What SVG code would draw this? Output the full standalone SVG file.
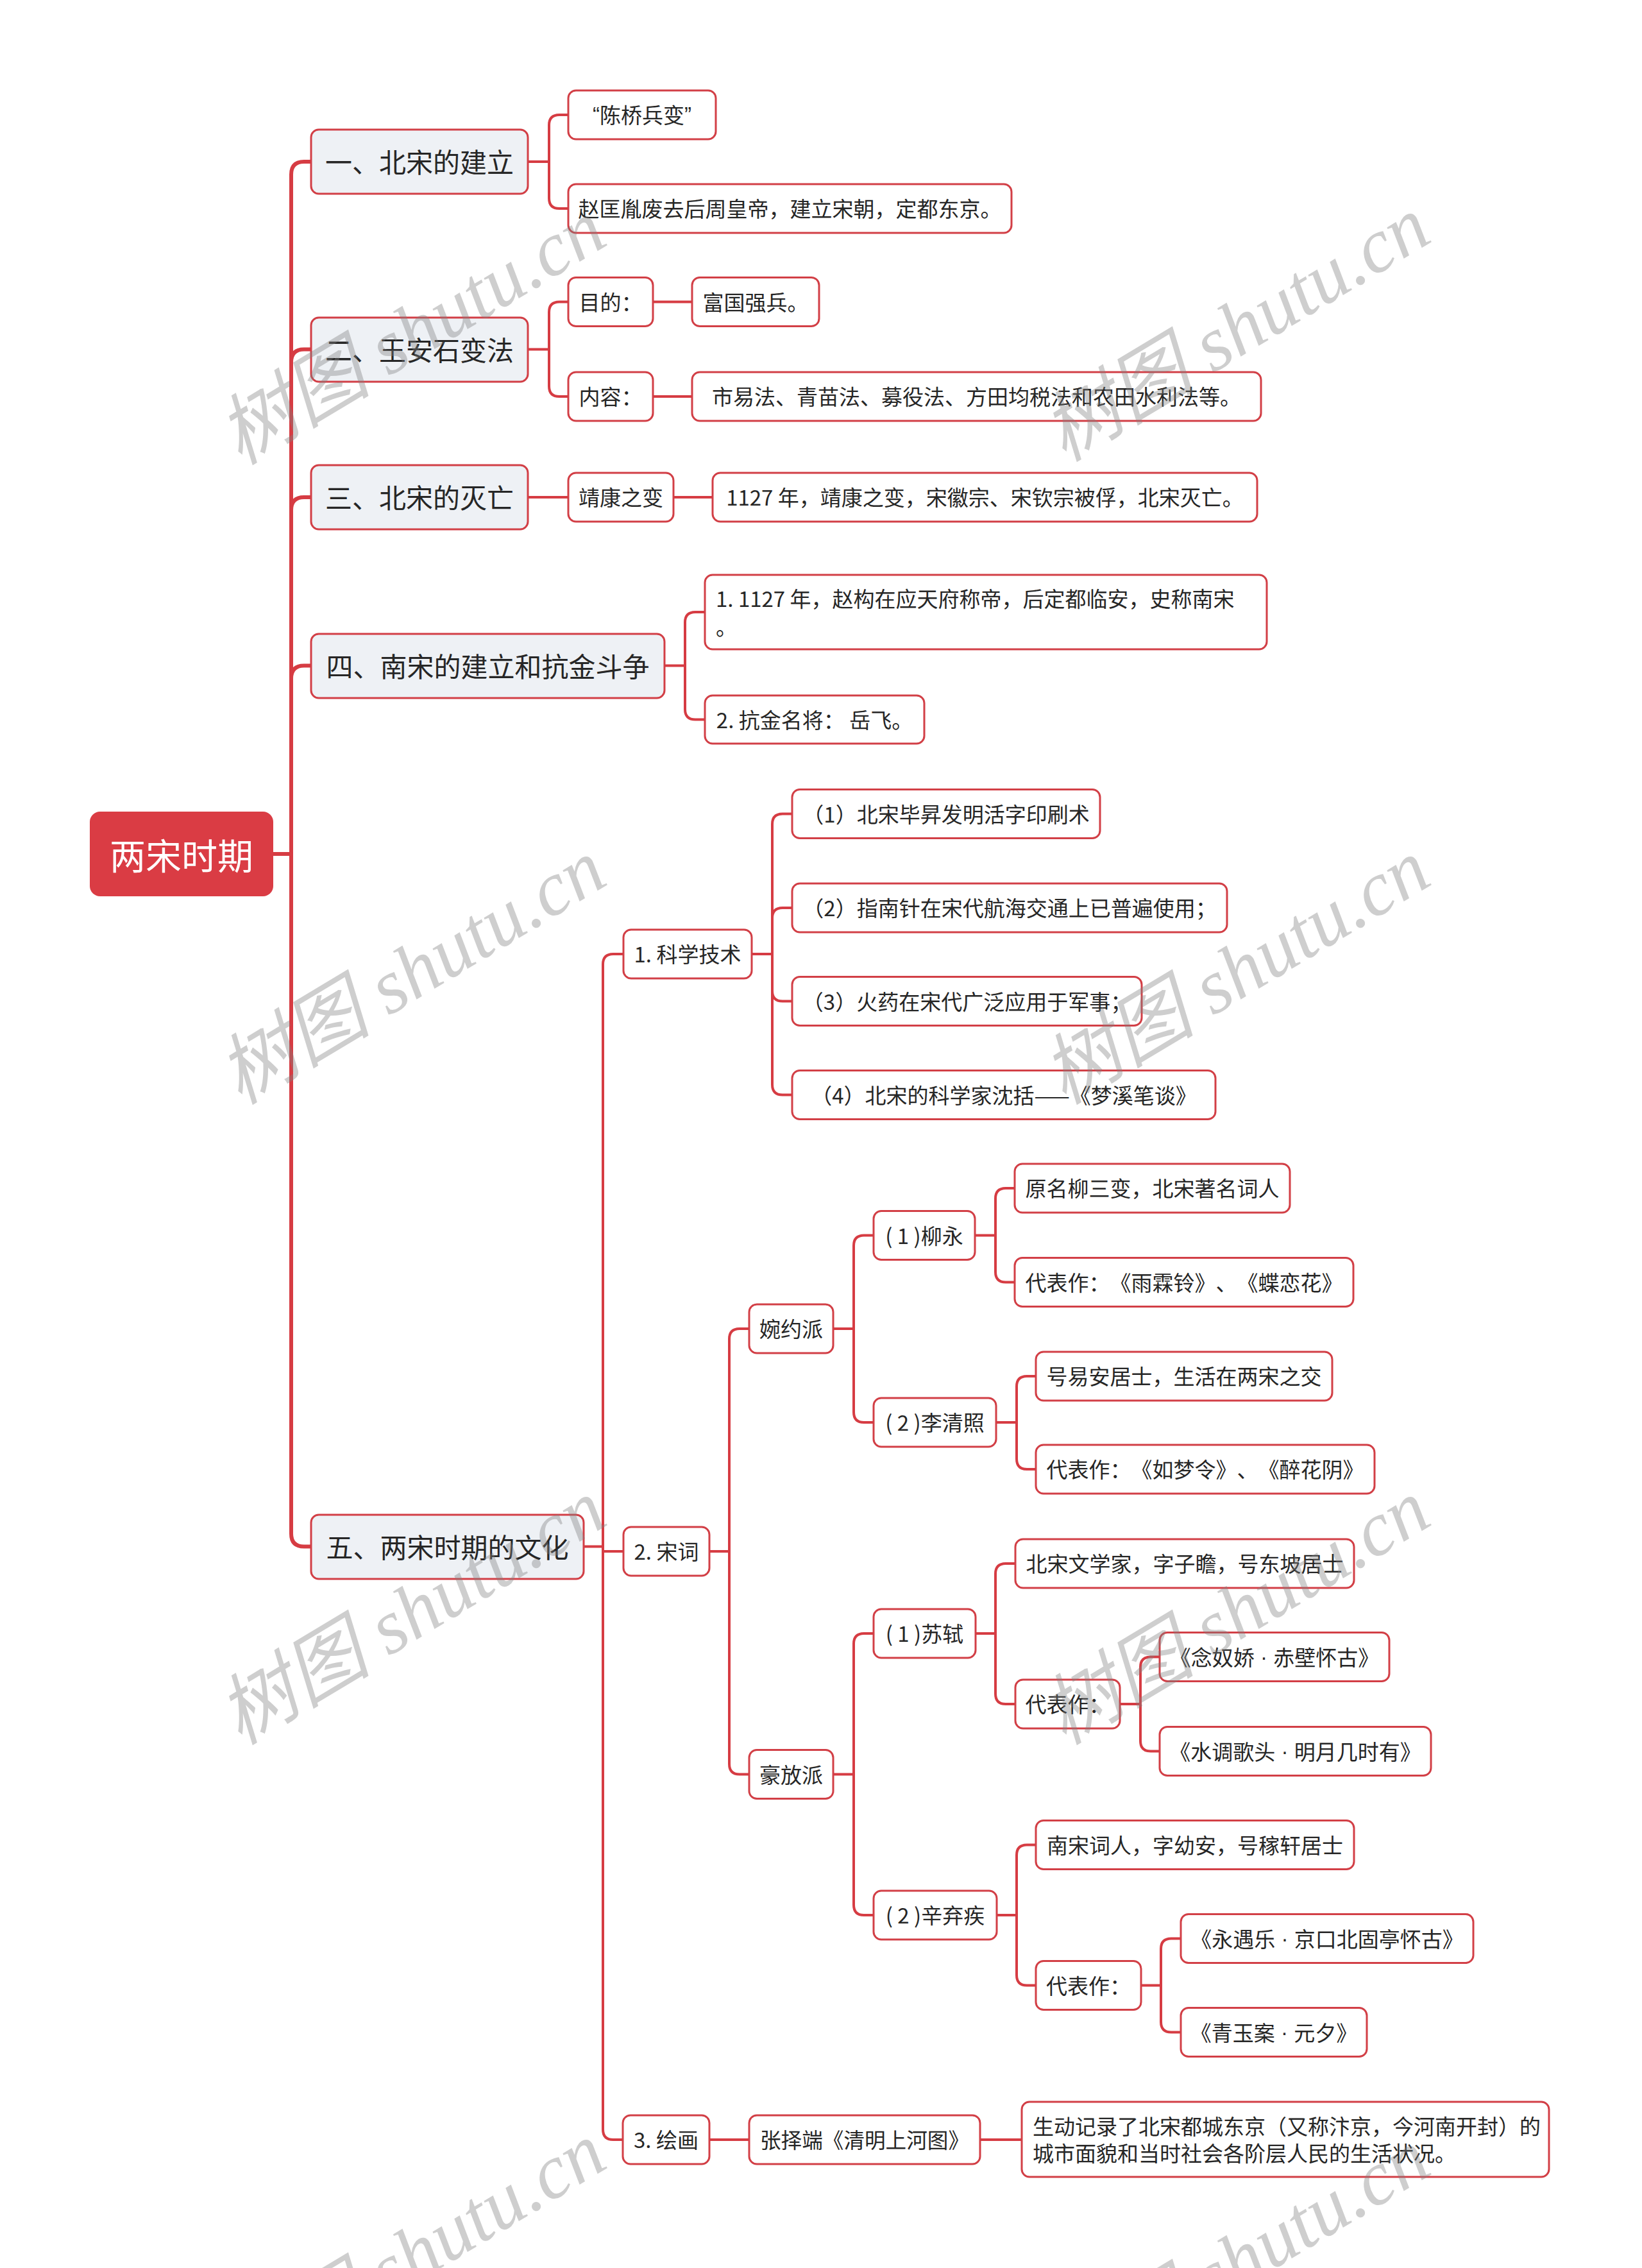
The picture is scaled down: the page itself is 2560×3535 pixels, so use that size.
<svg xmlns="http://www.w3.org/2000/svg" width="2560" height="3535" viewBox="0 0 2560 3535">
<style>
.bg{fill:#ffffff}
.conn path{fill:none;stroke:#D63C43;stroke-width:4;stroke-linecap:round;stroke-linejoin:round}
.conn path.trunk{stroke-width:6}
.node rect{fill:#ffffff;stroke:#D23F46;stroke-width:3}
.main rect{fill:#EEF1F5}
.root rect{fill:#DA3C44;stroke:none}
text{font-family:'Noto Sans CJK SC','Noto Sans',sans-serif;fill:#262626;text-spacing-trim:space-all}
.c{text-anchor:middle;dominant-baseline:central}
.l{text-anchor:start;dominant-baseline:central}
.f56{font-size:56px;fill:#ffffff}
.f42{font-size:42px}
.f32{font-size:33px}
.lat{font-family:'Liberation Sans',sans-serif}
.wm text{font-family:'Liberation Serif','Noto Sans CJK SC',serif;font-style:italic;font-size:120px;fill:#808080;opacity:0.38;text-anchor:middle;dominant-baseline:central}
</style>
<rect class="bg" x="0" y="0" width="2560" height="3535"/>
<g id="connectors" class="conn">
<path class="trunk" d="M426,1331 H454 V272 Q454,252 474,252 H485"/>
<path class="trunk" d="M454,1331 V564.5 Q454,544.5 474,544.5 H485"/>
<path class="trunk" d="M454,1331 V795 Q454,775 474,775 H485"/>
<path class="trunk" d="M454,1331 V1057.5 Q454,1037.5 474,1037.5 H485"/>
<path class="trunk" d="M454,1331 V2390.5 Q454,2410.5 474,2410.5 H485"/>
<path d="M823,252 H856 V195 Q856,179 872,179 H886"/>
<path d="M856,252 V309 Q856,325 872,325 H886"/>
<path d="M823,544.5 H856 V486.5 Q856,470.5 872,470.5 H886"/>
<path d="M856,544.5 V602 Q856,618 872,618 H886"/>
<path d="M1018,470.5 H1079"/>
<path d="M1018,618 H1079"/>
<path d="M823,775 H886"/>
<path d="M1050,775 H1111"/>
<path d="M1036,1037.5 H1068 V970 Q1068,954 1084,954 H1099"/>
<path d="M1068,1037.5 V1105.5 Q1068,1121.5 1084,1121.5 H1099"/>
<path d="M910,2410.5 H940 V1503 Q940,1487 956,1487 H972"/>
<path d="M940,2410.5 V2418 H972"/>
<path d="M940,2410.5 V3319 Q940,3335 956,3335 H971"/>
<path d="M1172,1487 H1204 V1284.5 Q1204,1268.5 1220,1268.5 H1235"/>
<path d="M1204,1487 V1431 Q1204,1415 1220,1415 H1235"/>
<path d="M1204,1487 V1544.5 Q1204,1560.5 1220,1560.5 H1235"/>
<path d="M1204,1487 V1690.5 Q1204,1706.5 1220,1706.5 H1235"/>
<path d="M1106,2418 H1137 V2087 Q1137,2071 1153,2071 H1168"/>
<path d="M1137,2418 V2749.5 Q1137,2765.5 1153,2765.5 H1168"/>
<path d="M1299,2071 H1331 V1941.5 Q1331,1925.5 1347,1925.5 H1362"/>
<path d="M1331,2071 V2201 Q1331,2217 1347,2217 H1362"/>
<path d="M1520,1925.5 H1552 V1868 Q1552,1852 1568,1852 H1582"/>
<path d="M1552,1925.5 V1982.5 Q1552,1998.5 1568,1998.5 H1582"/>
<path d="M1553,2217 H1585 V2161 Q1585,2145 1601,2145 H1615"/>
<path d="M1585,2217 V2274 Q1585,2290 1601,2290 H1615"/>
<path d="M1299,2765.5 H1331 V2562 Q1331,2546 1347,2546 H1362"/>
<path d="M1331,2765.5 V2969 Q1331,2985 1347,2985 H1362"/>
<path d="M1521,2546 H1552 V2453 Q1552,2437 1568,2437 H1583"/>
<path d="M1552,2546 V2640 Q1552,2656 1568,2656 H1583"/>
<path d="M1746,2656 H1778 V2598.5 Q1778,2582.5 1794,2582.5 H1808"/>
<path d="M1778,2656 V2713.5 Q1778,2729.5 1794,2729.5 H1808"/>
<path d="M1554,2985 H1585 V2891.5 Q1585,2875.5 1601,2875.5 H1615"/>
<path d="M1585,2985 V3078.5 Q1585,3094.5 1601,3094.5 H1615"/>
<path d="M1779,3094.5 H1810 V3037.5 Q1810,3021.5 1826,3021.5 H1841"/>
<path d="M1810,3094.5 V3151.5 Q1810,3167.5 1826,3167.5 H1841"/>
<path d="M1106,3335 H1168"/>
<path d="M1528,3335 H1593"/>
</g>
<g id="root" class="node root"><rect x="140" y="1265" width="286" height="132" rx="16"/><text class="c f56" x="283" y="1330">两宋时期</text></g>
<g id="m1" class="node main"><rect x="485" y="202" width="338" height="100" rx="12"/><text class="c f42" x="654" y="250">一、北宋的建立</text></g>
<g id="m2" class="node main"><rect x="485" y="495" width="338" height="100" rx="12"/><text class="c f42" x="654" y="543">二、王安石变法</text></g>
<g id="m3" class="node main"><rect x="485" y="725" width="338" height="100" rx="12"/><text class="c f42" x="654" y="773">三、北宋的灭亡</text></g>
<g id="m4" class="node main"><rect x="485" y="988" width="551" height="100" rx="12"/><text class="c f42" x="760.5" y="1036">四、南宋的建立和抗金斗争</text></g>
<g id="m5" class="node main"><rect x="485" y="2361" width="425" height="100" rx="12"/><text class="c f42" x="697.5" y="2409">五、两宋时期的文化</text></g>
<g id="n1a" class="node"><rect x="886" y="141" width="230" height="76" rx="12"/><text class="c f32" x="1001" y="178"><tspan class="lat">“</tspan>陈桥兵变<tspan class="lat">”</tspan></text></g>
<g id="n1b" class="node"><rect x="886" y="287" width="691" height="76" rx="12"/><text class="c f32" x="1231.5" y="324">赵匡胤废去后周皇帝，建立宋朝，定都东京。</text></g>
<g id="n2a" class="node"><rect x="886" y="432.5" width="132" height="76" rx="12"/><text class="c f32" x="952" y="469.5">目的：</text></g>
<g id="n2a1" class="node"><rect x="1079" y="432.5" width="198" height="76" rx="12"/><text class="c f32" x="1178" y="469.5">富国强兵。</text></g>
<g id="n2b" class="node"><rect x="886" y="580" width="132" height="76" rx="12"/><text class="c f32" x="952" y="617">内容：</text></g>
<g id="n2b1" class="node"><rect x="1079" y="580" width="887" height="76" rx="12"/><text class="c f32" x="1522.5" y="617">市易法、青苗法、募役法、方田均税法和农田水利法等。</text></g>
<g id="n3a" class="node"><rect x="886" y="737" width="164" height="76" rx="12"/><text class="c f32" x="968" y="774">靖康之变</text></g>
<g id="n3a1" class="node"><rect x="1111" y="737" width="849" height="76" rx="12"/><text class="c f32" x="1535.5" y="774">1127 年，靖康之变，宋徽宗、宋钦宗被俘，北宋灭亡。</text></g>
<g id="n4a" class="node"><rect x="1099" y="896" width="876" height="116" rx="12"/><text class="l f32" x="1116" y="932">1. 1127 年，赵构在应天府称帝，后定都临安，史称南宋</text><text class="l f32" x="1116" y="976">。</text></g>
<g id="n4b" class="node"><rect x="1099" y="1084" width="342" height="75" rx="12"/><text class="c f32" x="1270" y="1120.5">2. 抗金名将： 岳飞。</text></g>
<g id="s1" class="node"><rect x="972" y="1449" width="200" height="76" rx="12"/><text class="c f32" x="1072" y="1486">1. 科学技术</text></g>
<g id="s1a" class="node"><rect x="1235" y="1230.5" width="480" height="76" rx="12"/><text class="c f32" x="1475" y="1267.5">（1）北宋毕昇发明活字印刷术</text></g>
<g id="s1b" class="node"><rect x="1235" y="1377" width="678" height="76" rx="12"/><text class="c f32" x="1574" y="1414">（2）指南针在宋代航海交通上已普遍使用；</text></g>
<g id="s1c" class="node"><rect x="1235" y="1522.5" width="545" height="76" rx="12"/><text class="c f32" x="1507.5" y="1559.5">（3）火药在宋代广泛应用于军事；</text></g>
<g id="s1d" class="node"><rect x="1235" y="1668.5" width="660" height="76" rx="12"/><text class="c f32" x="1565" y="1705.5">（4）北宋的科学家沈括——《梦溪笔谈》</text></g>
<g id="s2" class="node"><rect x="972" y="2380" width="134" height="76" rx="12"/><text class="c f32" x="1039" y="2417">2. 宋词</text></g>
<g id="w" class="node"><rect x="1168" y="2033" width="131" height="76" rx="12"/><text class="c f32" x="1233.5" y="2070">婉约派</text></g>
<g id="w1" class="node"><rect x="1362" y="1887.5" width="158" height="76" rx="12"/><text class="c f32" x="1441" y="1924.5">( 1 )柳永</text></g>
<g id="w1a" class="node"><rect x="1582" y="1814" width="429" height="76" rx="12"/><text class="c f32" x="1796.5" y="1851">原名柳三变，北宋著名词人</text></g>
<g id="w1b" class="node"><rect x="1582" y="1960.5" width="528" height="76" rx="12"/><text class="c f32" x="1846" y="1997.5">代表作：《雨霖铃》、《蝶恋花》</text></g>
<g id="w2" class="node"><rect x="1362" y="2179" width="191" height="76" rx="12"/><text class="c f32" x="1457.5" y="2216">( 2 )李清照</text></g>
<g id="w2a" class="node"><rect x="1615" y="2107" width="462" height="76" rx="12"/><text class="c f32" x="1846" y="2144">号易安居士，生活在两宋之交</text></g>
<g id="w2b" class="node"><rect x="1615" y="2252" width="528" height="76" rx="12"/><text class="c f32" x="1879" y="2289">代表作：《如梦令》、《醉花阴》</text></g>
<g id="h" class="node"><rect x="1168" y="2727.5" width="131" height="76" rx="12"/><text class="c f32" x="1233.5" y="2764.5">豪放派</text></g>
<g id="h1" class="node"><rect x="1362" y="2508" width="159" height="76" rx="12"/><text class="c f32" x="1441.5" y="2545">( 1 )苏轼</text></g>
<g id="h1a" class="node"><rect x="1583" y="2399" width="528" height="76" rx="12"/><text class="c f32" x="1847" y="2436">北宋文学家，字子瞻，号东坡居士</text></g>
<g id="h1b" class="node"><rect x="1583" y="2618" width="163" height="76" rx="12"/><text class="c f32" x="1664.5" y="2655">代表作：</text></g>
<g id="h1b1" class="node"><rect x="1808" y="2544.5" width="358" height="76" rx="12"/><text class="c f32" x="1987" y="2581.5">《念奴娇<tspan class="lat"> · </tspan>赤壁怀古》</text></g>
<g id="h1b2" class="node"><rect x="1808" y="2691.5" width="423" height="76" rx="12"/><text class="c f32" x="2019.5" y="2728.5">《水调歌头<tspan class="lat"> · </tspan>明月几时有》</text></g>
<g id="h2" class="node"><rect x="1362" y="2947" width="192" height="76" rx="12"/><text class="c f32" x="1458" y="2984">( 2 )辛弃疾</text></g>
<g id="h2a" class="node"><rect x="1615" y="2837.5" width="496" height="76" rx="12"/><text class="c f32" x="1863" y="2874.5">南宋词人，字幼安，号稼轩居士</text></g>
<g id="h2b" class="node"><rect x="1615" y="3056.5" width="164" height="76" rx="12"/><text class="c f32" x="1697" y="3093.5">代表作：</text></g>
<g id="h2b1" class="node"><rect x="1841" y="2983.5" width="456" height="76" rx="12"/><text class="c f32" x="2069" y="3020.5">《永遇乐<tspan class="lat"> · </tspan>京口北固亭怀古》</text></g>
<g id="h2b2" class="node"><rect x="1841" y="3129.5" width="290" height="76" rx="12"/><text class="c f32" x="1986" y="3166.5">《青玉案<tspan class="lat"> · </tspan>元夕》</text></g>
<g id="p" class="node"><rect x="971" y="3297" width="135" height="76" rx="12"/><text class="c f32" x="1038.5" y="3334">3. 绘画</text></g>
<g id="p1" class="node"><rect x="1168" y="3297" width="360" height="76" rx="12"/><text class="c f32" x="1348" y="3334" textLength="326" lengthAdjust="spacingAndGlyphs">张择端《清明上河图》</text></g>
<g id="p2" class="node"><rect x="1593" y="3276" width="822" height="117" rx="12"/><text class="l f32" x="1610" y="3313">生动记录了北宋都城东京（又称汴京，今河南开封）的</text><text class="l f32" x="1610" y="3355">城市面貌和当时社会各阶层人民的生活状况。</text></g>
<g id="watermark" class="wm">
<text transform="translate(642,518) rotate(-31)">树图 shutu.cn</text>
<text transform="translate(1927,513) rotate(-31)">树图 shutu.cn</text>
<text transform="translate(642,1515) rotate(-31)">树图 shutu.cn</text>
<text transform="translate(1927,1515) rotate(-31)">树图 shutu.cn</text>
<text transform="translate(642,2513) rotate(-31)">树图 shutu.cn</text>
<text transform="translate(1927,2513) rotate(-31)">树图 shutu.cn</text>
<text transform="translate(642,3515) rotate(-31)">树图 shutu.cn</text>
<text transform="translate(1927,3525) rotate(-31)">树图 shutu.cn</text>
</g>
</svg>
